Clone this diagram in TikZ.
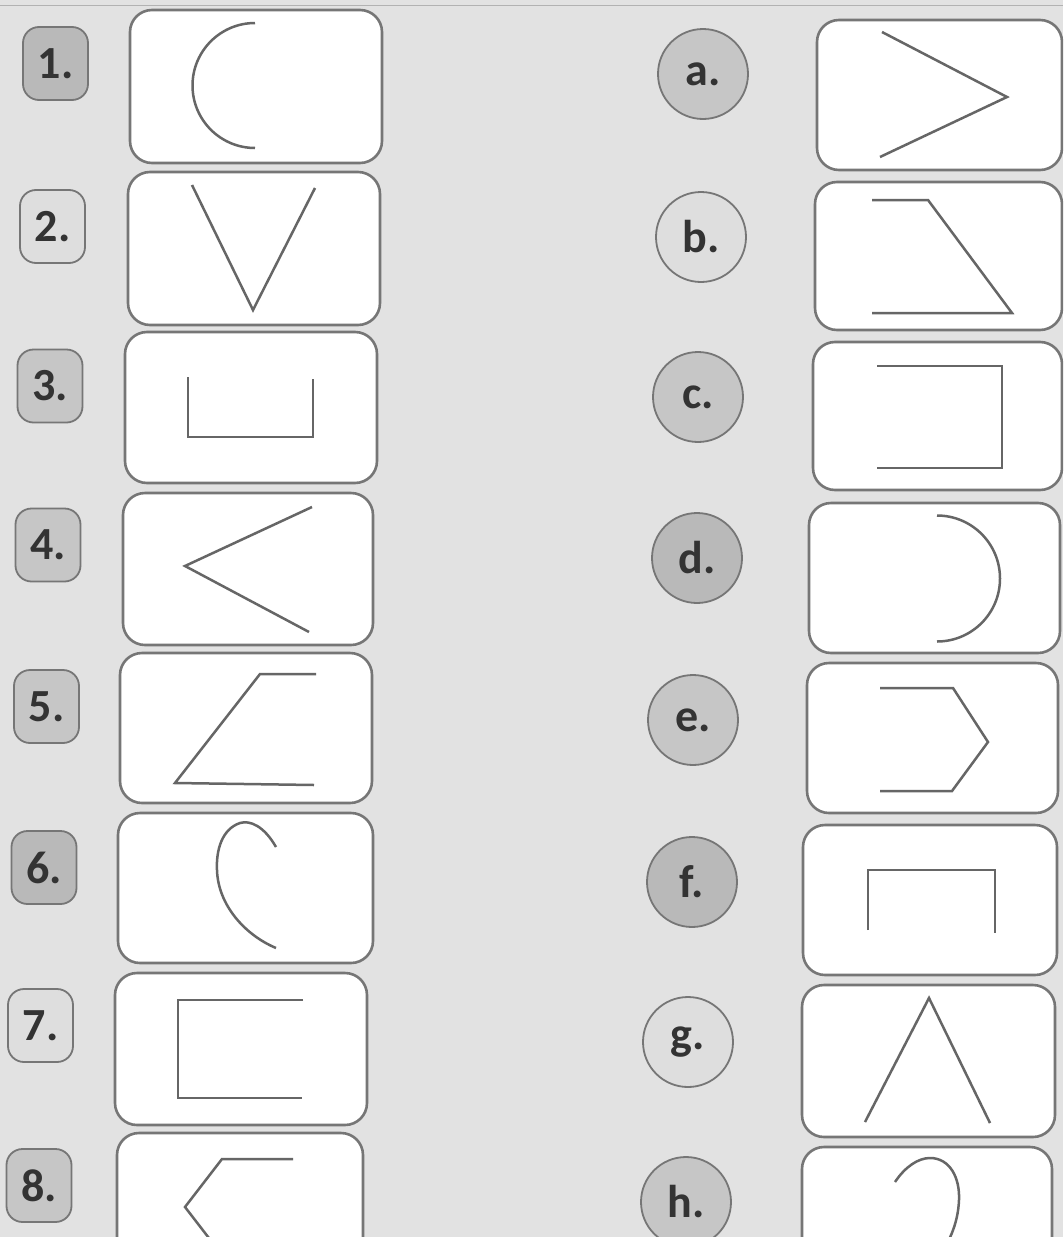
\documentclass[tikz,border=0pt]{standalone}
\usepackage{fontspec}
\setmainfont{Carlito}
\definecolor{paper}{HTML}{E2E2E2}
\definecolor{edge}{HTML}{767676}
\definecolor{ink}{HTML}{666666}
\definecolor{tagdark}{HTML}{B9B9B9}
\definecolor{tagmid}{HTML}{C6C6C6}
\definecolor{taglight}{HTML}{DEDEDE}
\definecolor{txt}{HTML}{333333}
\tikzset{
  cardbox/.style={draw=edge, line width=2.6pt, fill=white, rounded corners=22pt, inner sep=0pt},
  numtag/.style={draw=edge, line width=1.8pt, rounded corners=16pt, minimum width=65pt, minimum height=73pt, inner sep=0pt, font=\fontsize{46}{48}\selectfont\bfseries, text=txt},
  lettag/.style={draw=edge, line width=1.8pt, circle, minimum size=90pt, inner sep=0pt, font=\fontsize{46}{48}\selectfont\bfseries, text=txt},
  figline/.style={draw=ink, line width=2.5pt},
}
\begin{document}
\begin{tikzpicture}[x=1pt, y=-1pt]
\useasboundingbox (0,0) rectangle (1063,1237);
\clip (0,0) rectangle (1063,1237);
\fill[paper] (0,0) rectangle (1063,1237);
\draw[gray!60, line width=1pt] (0,5) -- (1063,5);

% left cards
\node[cardbox, minimum width=252pt, minimum height=153pt] (c1) at (256,86.5) {};
\node[cardbox, minimum width=252pt, minimum height=153pt] (c2) at (254,248.5) {};
\node[cardbox, minimum width=252pt, minimum height=151pt] (c3) at (251,407.5) {};
\node[cardbox, minimum width=250pt, minimum height=152pt] (c4) at (248,569) {};
\node[cardbox, minimum width=252pt, minimum height=150pt] (c5) at (246,728) {};
\node[cardbox, minimum width=255pt, minimum height=150pt] (c6) at (245.5,888) {};
\node[cardbox, minimum width=252pt, minimum height=152pt] (c7) at (241,1049) {};
\node[cardbox, minimum width=246pt, minimum height=152pt] (c8) at (240,1209) {};

% right cards
\node[cardbox, minimum width=245pt, minimum height=150pt] (ca) at (939.5,95) {};
\node[cardbox, minimum width=247pt, minimum height=148pt] (cb) at (938.5,256) {};
\node[cardbox, minimum width=249pt, minimum height=148pt] (cc) at (937.5,416) {};
\node[cardbox, minimum width=251pt, minimum height=150pt] (cd) at (934.5,578) {};
\node[cardbox, minimum width=251pt, minimum height=150pt] (ce) at (932.5,738) {};
\node[cardbox, minimum width=254pt, minimum height=150pt] (cf) at (930,900) {};
\node[cardbox, minimum width=253pt, minimum height=152pt] (cg) at (928.5,1061) {};
\node[cardbox, minimum width=250pt, minimum height=152pt] (ch) at (927,1223) {};

% number tags
\node[numtag, fill=tagdark] (n1) at (55.5,63.5) {1.};
\node[numtag, fill=taglight] (n2) at (52.5,226.5) {2.};
\node[numtag, fill=tagmid] (n3) at (50,386) {3.};
\node[numtag, fill=tagmid] (n4) at (48,545) {4.};
\node[numtag, fill=tagmid] (n5) at (46.5,706.5) {5.};
\node[numtag, fill=tagdark] (n6) at (44,867.5) {6.};
\node[numtag, fill=taglight] (n7) at (40.5,1025.5) {7.};
\node[numtag, fill=tagmid] (n8) at (39,1185.5) {8.};

% letter tags
\node[lettag, fill=tagmid] (la) at (703,74) {a.};
\node[lettag, fill=taglight] (lb) at (701,237) {b.};
\node[lettag, fill=tagmid] (lc) at (698,397) {c.};
\node[lettag, fill=tagdark] (ld) at (697,558) {d.};
\node[lettag, fill=tagmid] (le) at (693,720) {e.};
\node[lettag, fill=tagdark] (lf) at (692,882) {f.};
\node[lettag, fill=taglight] (lg) at (688,1042) {g.};
\node[lettag, fill=tagmid] (lh) at (686,1202) {h.};

% figures, left column
\draw[figline] (255,23) .. controls (220.5,23) and (192.5,51) .. (192.5,85.5)
  .. controls (192.5,120) and (220.5,148) .. (255,148);
\draw[figline] (192,185) -- (253,310) -- (315,188);
\draw[figline] (188,377) -- (188,437) -- (313,437) -- (313,379);
\draw[figline] (312,507) -- (185,566) -- (309,632);
\draw[figline] (316,674) -- (260,674) -- (175,783) -- (314,785);
\draw[figline] (276,847) .. controls (264,826) and (250,820) .. (240,823)
  .. controls (222,829) and (216,850) .. (217,870)
  .. controls (218,905) and (245,935) .. (276,948);
\draw[figline] (303,1000) -- (178,1000) -- (178,1098) -- (302,1098);
\draw[figline] (293,1159) -- (222,1159) -- (185,1207) -- (222,1255);

% figures, right column
\draw[figline] (882,32) -- (1007,97) -- (880,157);
\draw[figline] (872,200) -- (928,200) -- (1012,313) -- (872,313);
\draw[figline] (877,366) -- (1002,366) -- (1002,468) -- (877,468);
\draw[figline] (937,515.5) .. controls (971.8,515.5) and (1000,543.7) .. (1000,578.5)
  .. controls (1000,613.3) and (971.8,641.5) .. (937,641.5);
\draw[figline] (880,688) -- (953,688) -- (988,742) -- (952,791) -- (880,791);
\draw[figline] (868,930) -- (868,870) -- (995,870) -- (995,933);
\draw[figline] (865,1122) -- (929,998) -- (990,1123);
\draw[figline] (895,1182) .. controls (905,1167) and (918,1158) .. (930,1158)
  .. controls (950,1158) and (960,1178) .. (959,1200)
  .. controls (958,1225) and (948,1245) .. (935,1262);
\end{tikzpicture}
\end{document}
